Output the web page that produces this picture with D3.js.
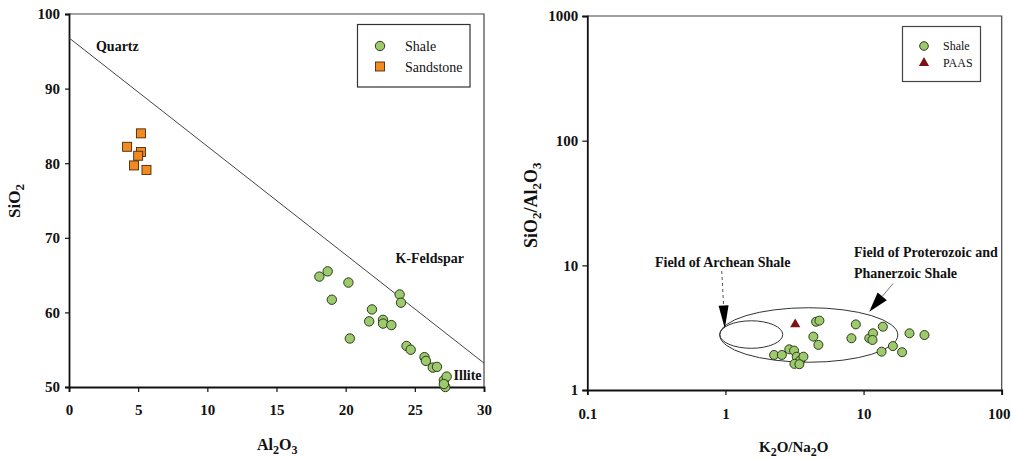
<!DOCTYPE html>
<html>
<head>
<meta charset="utf-8">
<script src="https://cdn.jsdelivr.net/npm/d3@7"></script>
<style>
  html, body { margin: 0; padding: 0; background: #fff; }
  svg { display: block; }
  svg text { font-family: "Liberation Serif", "Times New Roman", serif; }
</style>
</head>
<body>
<svg id="chart" width="1011" height="459"></svg>
<script>
// ---------- Data: left panel (SiO2 vs Al2O3) ----------
const shaleAl2O3 = [18.1, 18.7, 20.2, 19.0, 20.3, 21.9, 21.7, 22.7, 22.7, 23.3, 23.9, 24.0, 24.4, 24.7, 25.7, 25.8, 26.3, 26.6, 27.1, 27.2, 27.3, 27.1];
const shaleSiO2   = [64.8, 65.5, 64.0, 61.7, 56.5, 60.4, 58.8, 59.0, 58.5, 58.3, 62.4, 61.3, 55.5, 55.0, 54.0, 53.5, 52.6, 52.7, 50.9, 50.0, 51.4, 50.4];
const sandAl2O3   = [4.2, 5.2, 5.2, 5.0, 4.7, 5.6];
const sandSiO2    = [82.2, 84.0, 81.5, 81.0, 79.7, 79.1];
const quartzIlliteLine = [[0, 96.8], [30, 53.2]];
const leftXTicks = [0, 5, 10, 15, 20, 25, 30];
const leftYTicks = [50, 60, 70, 80, 90, 100];
const leftLabels = [
  { text: "Quartz", x: 1.95, y: 95.0 },
  { text: "K-Feldspar", x: 23.6, y: 66.6 },
  { text: "Illite", x: 27.8, y: 50.9 }
];
const leftLegend = ["Shale", "Sandstone"];

// ---------- Data: right panel (SiO2/Al2O3 vs K2O/Na2O) ----------
const shaleK2ONa2O   = [2.25, 2.56, 2.90, 3.14, 3.28, 3.47, 3.67, 3.16, 3.43, 4.53, 4.79, 4.33, 4.71, 8.17, 8.79, 11.0, 11.7, 11.6, 13.8, 13.5, 16.3, 19.0, 21.5, 27.6];
const shaleSiAlRatio = [1.91, 1.91, 2.12, 2.07, 1.85, 1.72, 1.85, 1.62, 1.61, 3.53, 3.60, 2.68, 2.30, 2.60, 3.36, 2.60, 2.85, 2.52, 3.22, 2.03, 2.25, 2.01, 2.85, 2.76];
const paasK2ONa2O = [3.2];
const paasSiAlRatio = [3.36];
const rightXTicks = [0.1, 1, 10, 100];
const rightYTicks = [1, 10, 100, 1000];
const fieldNames = ["Field of Proterozoic and Phanerzoic Shale", "Field of Archean Shale"];
const fieldXMin = [0.91, 0.91];
const fieldXMax = [17.7, 2.6];
const fieldYMin = [1.67, 2.16];
const fieldYMax = [4.57, 3.59];
const rightLegend = ["Shale", "PAAS"];

// ---------- Drawing ----------
const svg = d3.select("#chart");
const FONT = "Liberation Serif";
const GREEN = "#9dca6c", GREEN_STROKE = "#2d3a1c";
const ORANGE = "#f28a22", ORANGE_STROKE = "#4a2a08";
const RED = "#7b1214";

function subText(sel, parts, subSize) {
  parts.forEach(([t, sub], i) => {
    const ts = sel.append("tspan").text(t);
    if (sub) ts.attr("font-size", subSize).attr("dy", 4);
    else if (i > 0) ts.attr("dy", -4);
  });
}

// ===== LEFT PANEL =====
const L = { x0: 69, x1: 484, y0: 14, y1: 387 };
const lx = d3.scaleLinear().domain([0, 30]).range([L.x0, L.x1]);
const ly = d3.scaleLinear().domain([50, 100]).range([L.y1, L.y0]);
const gl = svg.append("g");

gl.append("path")
  .attr("d", `M${L.x0},${L.y0}H${L.x1}V${L.y1}`)
  .attr("fill", "none").attr("stroke", "#444").attr("stroke-width", 1.2);

const lxAxis = gl.append("g").attr("transform", `translate(0,${L.y1})`)
  .call(d3.axisBottom(lx).tickValues(leftXTicks).tickSize(5).tickPadding(12).tickFormat(d3.format("d")));
const lyAxis = gl.append("g").attr("transform", `translate(${L.x0},0)`)
  .call(d3.axisLeft(ly).tickValues(leftYTicks).tickSize(4).tickPadding(5).tickFormat(d3.format("d")));
[lxAxis, lyAxis].forEach(a => {
  a.attr("font-family", FONT);
  a.select(".domain").attr("stroke", "#111").attr("stroke-width", 1.8);
  a.selectAll(".tick line").attr("stroke", "#111").attr("stroke-width", 1.2);
  a.selectAll(".tick text").attr("font-family", FONT).attr("font-weight", "bold")
    .attr("font-size", 15).attr("fill", "#111");
});

gl.append("line")
  .attr("x1", lx(quartzIlliteLine[0][0])).attr("y1", ly(quartzIlliteLine[0][1]))
  .attr("x2", lx(quartzIlliteLine[1][0])).attr("y2", ly(quartzIlliteLine[1][1]))
  .attr("stroke", "#444").attr("stroke-width", 1);

gl.selectAll("text.lab").data(leftLabels).enter().append("text")
  .attr("class", "lab")
  .attr("x", d => lx(d.x)).attr("y", d => ly(d.y))
  .attr("font-family", FONT).attr("font-weight", "bold").attr("font-size", 14).attr("fill", "#111")
  .text(d => d.text);

gl.selectAll("rect.sand").data(sandAl2O3.map((v, i) => [v, sandSiO2[i]])).enter().append("rect")
  .attr("class", "sand")
  .attr("x", d => lx(d[0]) - 4.5).attr("y", d => ly(d[1]) - 4.5)
  .attr("width", 9).attr("height", 9)
  .attr("fill", ORANGE).attr("stroke", ORANGE_STROKE).attr("stroke-width", 0.9);

gl.selectAll("circle.shale").data(shaleAl2O3.map((v, i) => [v, shaleSiO2[i]])).enter().append("circle")
  .attr("class", "shale")
  .attr("cx", d => lx(d[0])).attr("cy", d => ly(d[1])).attr("r", 4.7)
  .attr("fill", GREEN).attr("stroke", GREEN_STROKE).attr("stroke-width", 1);

const lxt = gl.append("text").attr("x", 257).attr("y", 450)
  .attr("font-family", FONT).attr("font-weight", "bold").attr("font-size", 16).attr("fill", "#111");
subText(lxt, [["Al", false], ["2", true], ["O", false], ["3", true]], 12);
const lyt = gl.append("text").attr("transform", "translate(20,218) rotate(-90)")
  .attr("font-family", FONT).attr("font-weight", "bold").attr("font-size", 17).attr("fill", "#111");
subText(lyt, [["SiO", false], ["2", true]], 13);

gl.append("rect").attr("x", 357.5).attr("y", 24.5).attr("width", 112.5).attr("height", 62.5)
  .attr("fill", "#fff").attr("stroke", "#333").attr("stroke-width", 1.2);
gl.append("circle").attr("cx", 380).attr("cy", 46).attr("r", 4.7)
  .attr("fill", GREEN).attr("stroke", GREEN_STROKE).attr("stroke-width", 1);
gl.append("rect").attr("x", 375.5).attr("y", 62).attr("width", 9).attr("height", 9)
  .attr("fill", ORANGE).attr("stroke", ORANGE_STROKE).attr("stroke-width", 0.9);
gl.selectAll("text.leg").data(leftLegend).enter().append("text")
  .attr("class", "leg").attr("x", 405).attr("y", (d, i) => 51 + i * 20.5)
  .attr("font-family", FONT).attr("font-size", 14).attr("fill", "#111").text(d => d);

// ===== RIGHT PANEL =====
const R = { x0: 587.3, x1: 1001.7, y0: 16, y1: 390 };
const rx = d3.scaleLog().domain([0.1, 100]).range([R.x0, R.x1]);
const ry = d3.scaleLog().domain([1, 1000]).range([R.y1, R.y0]);
const gr = svg.append("g");

gr.append("path")
  .attr("d", `M${R.x0},${R.y0}H${R.x1}V${R.y1}`)
  .attr("fill", "none").attr("stroke", "#444").attr("stroke-width", 1.2);

const rxAxis = gr.append("g").attr("transform", `translate(0,${R.y1})`)
  .call(d3.axisBottom(rx).tickValues(rightXTicks).tickSize(5).tickPadding(13).tickFormat(d => String(d)));
const ryAxis = gr.append("g").attr("transform", `translate(${R.x0},0)`)
  .call(d3.axisLeft(ry).tickValues(rightYTicks).tickSize(5).tickPadding(4).tickFormat(d => String(d)));
[rxAxis, ryAxis].forEach(a => {
  a.attr("font-family", FONT);
  a.select(".domain").attr("stroke", "#111").attr("stroke-width", 1.8);
  a.selectAll(".tick line").attr("stroke", "#111").attr("stroke-width", 1.2);
  a.selectAll(".tick text").attr("font-family", FONT).attr("font-weight", "bold")
    .attr("font-size", 15).attr("fill", "#111");
});
// keep the last x tick label inside the page
rxAxis.selectAll(".tick text").filter(d => d === rightXTicks[rightXTicks.length - 1])
  .attr("text-anchor", "end").attr("x", 1010 - R.x1);

fieldNames.forEach((name, i) => {
  const xa = rx(fieldXMin[i]), xb = rx(fieldXMax[i]);
  const ya = ry(fieldYMax[i]), yb = ry(fieldYMin[i]);
  gr.append("ellipse")
    .attr("cx", (xa + xb) / 2).attr("cy", (ya + yb) / 2)
    .attr("rx", (xb - xa) / 2).attr("ry", (yb - ya) / 2)
    .attr("fill", "none").attr("stroke", "#333").attr("stroke-width", 1);
});

function arrowHead(tip, from, len, half) {
  const dx = tip[0] - from[0], dy = tip[1] - from[1];
  const d = Math.hypot(dx, dy), ux = dx / d, uy = dy / d;
  const bx = tip[0] - ux * len, by = tip[1] - uy * len;
  return [[tip[0], tip[1]], [bx - uy * half, by + ux * half], [bx + uy * half, by - ux * half]];
}
const aStart = [rx(0.94), ry(9.0)], aTip = [rx(0.99), ry(3.12)];
const aHead = arrowHead(aTip, aStart, 23, 5);
const aBase = [(aHead[1][0] + aHead[2][0]) / 2, (aHead[1][1] + aHead[2][1]) / 2];
gr.append("line").attr("x1", aStart[0]).attr("y1", aStart[1]).attr("x2", aBase[0]).attr("y2", aBase[1])
  .attr("stroke", "#555").attr("stroke-width", 1).attr("stroke-dasharray", "3,3");
gr.append("polygon").attr("points", aHead.map(p => p.join(",")).join(" ")).attr("fill", "#000");
const pStart = [rx(16.4), ry(7.17)], pTip = [rx(11.0), ry(4.25)];
const pHead = arrowHead(pTip, pStart, 20, 6);
const pBase = [(pHead[1][0] + pHead[2][0]) / 2, (pHead[1][1] + pHead[2][1]) / 2];
gr.append("line").attr("x1", pStart[0]).attr("y1", pStart[1]).attr("x2", pBase[0]).attr("y2", pBase[1])
  .attr("stroke", "#666").attr("stroke-width", 0.9);
gr.append("polygon").attr("points", pHead.map(p => p.join(",")).join(" ")).attr("fill", "#000");

gr.append("text").attr("x", rx(0.309)).attr("y", ry(9.75))
  .attr("font-family", FONT).attr("font-weight", "bold").attr("font-size", 14).attr("fill", "#111").text("Field of Archean Shale");
gr.append("text").attr("x", rx(8.53)).attr("y", ry(11.7))
  .attr("font-family", FONT).attr("font-weight", "bold").attr("font-size", 14).attr("fill", "#111").text("Field of Proterozoic and");
gr.append("text").attr("x", rx(8.53)).attr("y", ry(7.91))
  .attr("font-family", FONT).attr("font-weight", "bold").attr("font-size", 14).attr("fill", "#111").text("Phanerzoic Shale");

gr.selectAll("circle.shale").data(shaleK2ONa2O.map((v, i) => [v, shaleSiAlRatio[i]])).enter().append("circle")
  .attr("class", "shale")
  .attr("cx", d => rx(d[0])).attr("cy", d => ry(d[1])).attr("r", 4.5)
  .attr("fill", GREEN).attr("stroke", GREEN_STROKE).attr("stroke-width", 1);

const tri = d3.symbol().type(d3.symbolTriangle).size(45);
gr.selectAll("path.paas").data(paasK2ONa2O.map((v, i) => [v, paasSiAlRatio[i]])).enter().append("path")
  .attr("class", "paas").attr("d", tri)
  .attr("transform", d => `translate(${rx(d[0])},${ry(d[1])})`)
  .attr("fill", RED);

const rxt = gr.append("text").attr("x", 759).attr("y", 452)
  .attr("font-family", FONT).attr("font-weight", "bold").attr("font-size", 15).attr("fill", "#111");
subText(rxt, [["K", false], ["2", true], ["O/Na", false], ["2", true], ["O", false]], 12);
const ryt = gr.append("text").attr("transform", "translate(537,248) rotate(-90)")
  .attr("font-family", FONT).attr("font-weight", "bold").attr("font-size", 18).attr("fill", "#111");
subText(ryt, [["SiO", false], ["2", true], ["/Al", false], ["2", true], ["O", false], ["3", true]], 13);

gr.append("rect").attr("x", 902.5).attr("y", 26.5).attr("width", 78).attr("height", 55)
  .attr("fill", "#fff").attr("stroke", "#444").attr("stroke-width", 1.2);
gr.append("circle").attr("cx", 924).attr("cy", 46).attr("r", 4.3)
  .attr("fill", GREEN).attr("stroke", GREEN_STROKE).attr("stroke-width", 1);
gr.append("path").attr("d", tri).attr("transform", "translate(924,63)").attr("fill", RED);
gr.selectAll("text.leg").data(rightLegend).enter().append("text")
  .attr("class", "leg").attr("x", 943).attr("y", (d, i) => 50 + i * 17)
  .attr("font-family", FONT).attr("font-size", 12).attr("fill", "#111").text(d => d);
</script>
</body>
</html>
